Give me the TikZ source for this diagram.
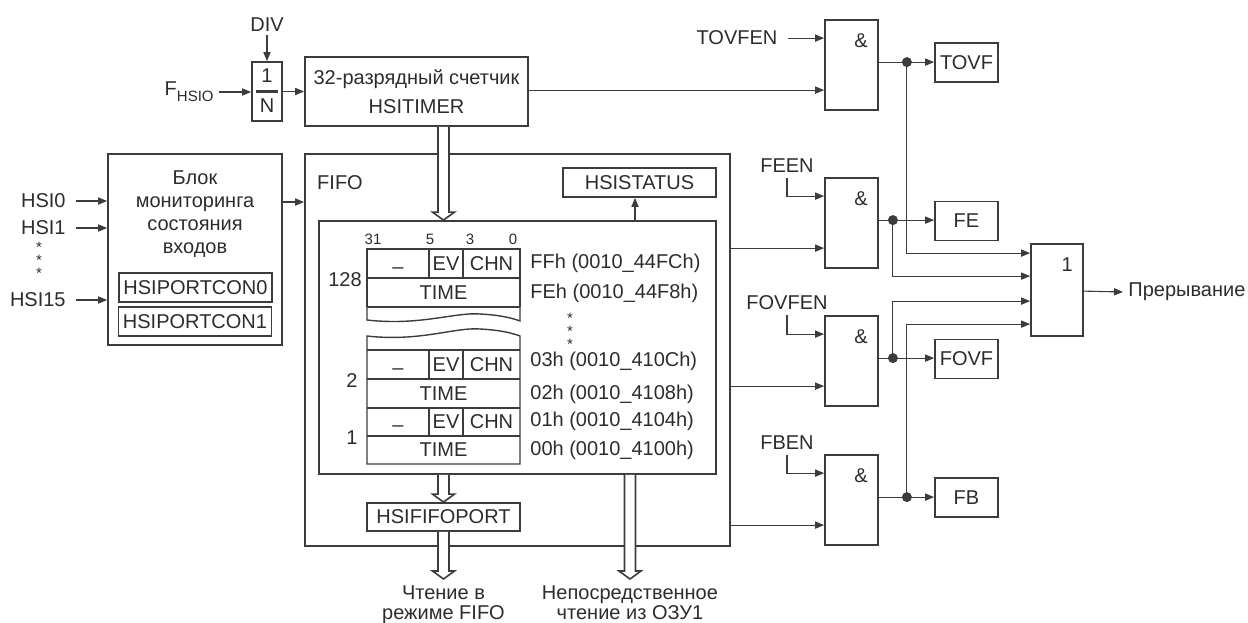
\documentclass[tikz,border=0pt]{standalone}
\usepackage{fontspec}
\setmainfont{Liberation Sans}
\usetikzlibrary{arrows.meta,calc}
\definecolor{ln}{HTML}{3C3C3C}
\definecolor{tx}{HTML}{2C2C2C}
\newcommand\dblarrow[2]{%
  \draw[dbl] ($(#1)+(-5.5,0)$) -- ($(#2)+(-5.5,-8)$) -- ($(#2)+(-11,-8)$) -- (#2) -- ($(#2)+(11,-8)$) -- ($(#2)+(5.5,-8)$) -- ($(#1)+(5.5,0)$);}
\begin{document}
\begin{tikzpicture}[x=0.5pt,y=-0.5pt,
  every node/.style={text=tx, font=\fontsize{10}{11.5}\selectfont, inner sep=0pt},
  box/.style={draw=ln, line width=0.9pt},
  tbl/.style={draw=ln, line width=0.7pt},
  sig/.style={draw=ln, line width=0.55pt},
  arr/.style={sig, -{Triangle[length=4.5pt,width=3.6pt]}},
  dbl/.style={draw=ln, line width=0.8pt, fill=white, line join=miter},
  dot/.style={circle, fill=ln, minimum size=5pt, inner sep=0pt},
  gate/.style={box, minimum width=26.5pt, minimum height=45pt},
  flag/.style={box, minimum width=31.5pt, minimum height=19.5pt},
  reg/.style={box, minimum width=76.5pt, minimum height=14.5pt},
  small/.style={font=\fontsize{7.5}{8}\selectfont},
  star/.style={font=\fontsize{7.5}{7.5}\selectfont, text height=3pt, text depth=0pt},
  dashcell/.style={anchor=base},
]
\useasboundingbox (0,0) rectangle (1248,622);

% ---- divider and counter
\node[box, minimum width=15pt, minimum height=29.5pt] (div) at (267,91.5) {};
\node (one) at (267,76) {1};
\node (enn) at (267,106) {N};
\draw[line width=1.3pt, draw=ln] ($(div.west)+(5,0)$) -- ($(div.east)+(-5,0)$);
\node (divlbl) at (267,25) {DIV};
\draw[arr] ([yshift=-1.5pt]divlbl.south) -- (div.north);
\node[anchor=east] (fh) at (214,92) {F\raisebox{-3pt}{\fontsize{7.5}{8}\selectfont HSIO}};
\draw[arr] ([xshift=2.5pt]fh.east) -- (fh.east -| div.west);
\node[box, minimum width=111.5pt, minimum height=34.5pt, align=center,
  font=\fontsize{10}{14.5}\selectfont] (counter) at (416.5,91.5) {32-разрядный счетчик\\HSITIMER};
\draw[arr] (div.east) -- (div.east -| counter.west);

% ---- input monitor block
\node[box, minimum width=87pt, minimum height=95.5pt] (blk) at (195,249.5) {};
\node[align=center] (blktxt) at (195,214) {Блок\\мониторинга\\состояния\\входов};
\node[reg] (pc0) at (195.5,287.5) {HSIPORTCON0};
\node[reg] (pc1) at (195,321.5) {HSIPORTCON1};
\node[anchor=east] (hsi0) at (66,201) {HSI0};
\node[anchor=east] (hsi1) at (66,228) {HSI1};
\node[anchor=east] (hsi15) at (66,300) {HSI15};
\node[star] (st1) at (39,249) {*};
\node[star] (st2) at (39,262) {*};
\node[star] (st3) at (39,275) {*};
\draw[arr] ([xshift=5pt]hsi0.east) -- (hsi0.east -| blk.west);
\draw[arr] ([xshift=5pt]hsi1.east) -- (hsi1.east -| blk.west);
\draw[arr] ([xshift=5pt]hsi15.east) -- (hsi15.east -| blk.west);

% ---- FIFO
\node[box, minimum width=212.5pt, minimum height=196pt] (fifo) at (517.5,350) {};
\draw[arr] (blk.east |- 0,202) -- (fifo.west |- 0,202);
\node (fifolbl) at (340,183) {FIFO};
\node[reg] (hsistat) at (639.5,182.5) {HSISTATUS};
\node[box, minimum width=198.5pt, minimum height=126.5pt] (inner) at (517.5,347.5) {};
\draw[arr] ([xshift=-2.25pt]hsistat.south |- inner.north) -- ([xshift=-2.25pt]hsistat.south);
\node[reg, minimum height=14pt] (fport) at (443.5,517) {HSIFIFOPORT};

% register table
\draw[tbl] (367,307) -- (367,249) -- (520,249) -- (520,307);
\draw[tbl] (367,278) -- (520,278) (367,307) -- (520,307);
\draw[tbl] (429,249) -- (429,278) (463,249) -- (463,278);
\draw[tbl] (367,307) -- (367,320) .. controls (420,326) and (455,312) .. (480,314)
  .. controls (500,315) and (512,318) .. (520,321) -- (520,307);
\draw[tbl] (520,350) -- (520,336) .. controls (512,333) and (500,330) .. (480,329)
  .. controls (455,327) and (420,342) .. (367,336) -- (367,464) -- (520,464) -- cycle;
\draw[tbl] (367,350) -- (520,350) (367,379) -- (520,379) (367,408) -- (520,408) (367,436) -- (520,436);
\draw[tbl] (429,350) -- (429,379) (463,350) -- (463,379) (429,408) -- (429,436) (463,408) -- (463,436);
\node[small] (b31) at (373,239) {31};
\node[small] (b5) at (430,239) {5};
\node[small] (b3) at (470,239) {3};
\node[small] (b0) at (513,239) {0};
\node (n128) at (345,280) {128};
\node (n2) at (352,381) {2};
\node (n1) at (352,438) {1};
\node[dashcell] (c1a) at (398,273) {–};
\node (c1b) at (446,263.5) {EV};
\node (c1c) at (491.5,263.5) {CHN};
\node (c1d) at (443.5,292.5) {TIME};
\node[dashcell] (c2a) at (398,374) {–};
\node (c2b) at (446,364.5) {EV};
\node (c2c) at (491.5,364.5) {CHN};
\node (c2d) at (443.5,393.5) {TIME};
\node[dashcell] (c3a) at (398,431.5) {–};
\node (c3b) at (446,422) {EV};
\node (c3c) at (491.5,422) {CHN};
\node (c3d) at (443.5,450) {TIME};
\node[anchor=west] (a1) at (530,263.5) {FFh (0010\_44FCh)};
\node[anchor=west] (a2) at (530,293.5) {FEh (0010\_44F8h)};
\node[anchor=west] (a3) at (530,361) {03h (0010\_410Ch)};
\node[anchor=west] (a4) at (530,394) {02h (0010\_4108h)};
\node[anchor=west] (a5) at (530,421) {01h (0010\_4104h)};
\node[anchor=west] (a6) at (530,450) {00h (0010\_4100h)};
\node[star] (s1) at (570,320) {*};
\node[star] (s2) at (570,333) {*};
\node[star] (s3) at (570,346) {*};

% bottom labels
\node[anchor=north, align=center, font=\fontsize{10}{10}\selectfont] (rdfifo) at (443.5,585) {Чтение в\\режиме FIFO};
\node[anchor=north, align=center, font=\fontsize{10}{10}\selectfont] (rdram) at (630,585) {Непосредственное\\чтение из ОЗУ1};

% double arrows
\dblarrow{443.5,0 |- counter.south}{443.5,0 |- inner.north}
\dblarrow{fport.north |- inner.south}{fport.north}
\dblarrow{fport.south}{[yshift=3pt]rdfifo.north}
\dblarrow{rdram.north |- inner.south}{[yshift=3pt]rdram.north}

% ---- gates
\node[gate] (and1) at (851.5,65) {};
\node[gate] (and2) at (851.5,223) {};
\node[gate] (and3) at (851.5,361) {};
\node[gate] (and4) at (851.5,500) {};
\foreach \g in {and1,and2,and3,and4}{
  \node at ($(\g.north west)+(37,22)$) {\&};
  \coordinate (\g i1) at ($(\g.north west)+(0,19)$);
  \coordinate (\g i2) at ($(\g.north west)+(0,71)$);
  \coordinate (\g o) at ($(\g.north east)+(0,43)$);
}
\node[box, minimum width=26pt, minimum height=46pt] (orgate) at (1057,290) {};
\node at ($(orgate.north west)+(37,22)$) {1};
\coordinate (or1) at ($(orgate.north west)+(0,10)$);
\coordinate (or2) at ($(orgate.north west)+(0,33)$);
\coordinate (or3) at ($(orgate.north west)+(0,58)$);
\coordinate (or4) at ($(orgate.north west)+(0,81)$);
\coordinate (oro) at ($(orgate.north east)+(0,48)$);

\node[flag] (tovf) at (966.5,62.5) {TOVF};
\node[flag] (fe) at (966.5,221) {FE};
\node[flag] (fovf) at (966.5,359) {FOVF};
\node[flag] (fb) at (966.5,497.5) {FB};

% enable inputs
\node (tovfen) at (737,38) {TOVFEN};
\draw[arr] ([xshift=5pt]tovfen.east |- and1i1) -- (and1i1);
\node (feen) at (787,166) {FEEN};
\draw[arr] ([yshift=-2.5pt]feen.south) |- (and2i1);
\node (fovfen) at (787,303) {FOVFEN};
\draw[arr] ([yshift=-2.5pt]fovfen.south) |- (and3i1);
\node (fben) at (787,443) {FBEN};
\draw[arr] ([yshift=-2.5pt]fben.south) |- (and4i1);

% data inputs
\draw[arr] (and1i2 -| counter.east) -- (and1i2);
\draw[arr] (and2i2 -| fifo.east) -- (and2i2);
\draw[arr] (and3i2 -| fifo.east) -- (and3i2);
\draw[arr] (and4i2 -| fifo.east) -- (and4i2);

% outputs
\node[dot] (d1) at ($(and1o)+(28,0)$) {};
\node[dot] (d2) at ($(and2o)+(14,0)$) {};
\node[dot] (d3) at ($(and3o)+(14,0)$) {};
\node[dot] (d4) at ($(and4o)+(28,0)$) {};
\draw[sig] (and1o) -- (d1.center);
\draw[sig] (and2o) -- (d2.center);
\draw[sig] (and3o) -- (d3.center);
\draw[sig] (and4o) -- (d4.center);
\draw[arr] (d1.center) -- (d1.center -| tovf.west);
\draw[arr] (d2.center) -- (d2.center -| fe.west);
\draw[arr] (d3.center) -- (d3.center -| fovf.west);
\draw[arr] (d4.center) -- (d4.center -| fb.west);
\draw[arr] (d1.center) |- (or1);
\draw[arr] (d2.center) |- (or2);
\draw[arr] (d3.center) |- (or3);
\draw[arr] (d4.center) |- (or4);

\node[anchor=west] (irq) at (1128,292) {Прерывание};
\draw[arr] (oro) -- ([xshift=-2.5pt]irq.west);
\end{tikzpicture}
\end{document}
